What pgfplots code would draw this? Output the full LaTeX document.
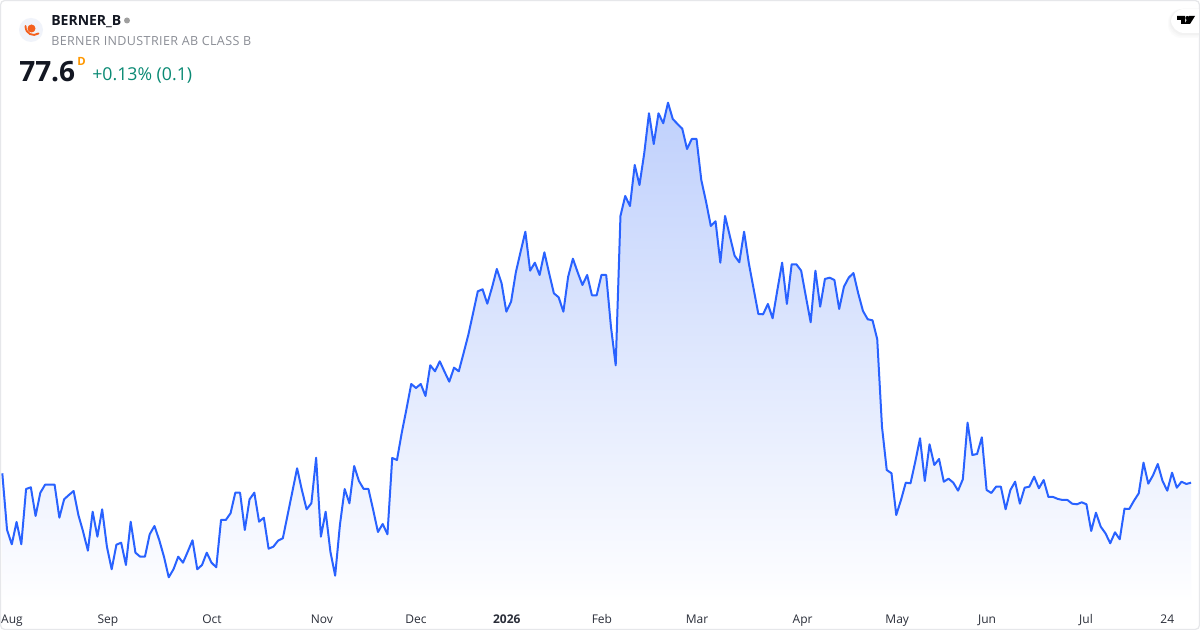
\documentclass[border=0pt]{standalone}
\usepackage{pgfplots}
\usepackage{pgfplotstable}
\usepackage{fontspec}
\pgfplotsset{compat=1.18}
\setmainfont{Open Sans}
\definecolor{line}{HTML}{2962FF}
\definecolor{frame}{HTML}{E6E7EA}
\definecolor{fillTop}{HTML}{BFD0FC}
\definecolor{fillBot}{HTML}{FEFEFF}
\definecolor{tick}{HTML}{2A2E39}
\definecolor{up}{HTML}{0A8A74}
\definecolor{sub}{HTML}{8A8D95}
\definecolor{orng}{HTML}{F4601E}
\definecolor{dcol}{HTML}{FF9800}
\definecolor{ink}{HTML}{131722}
\definecolor{logobg}{HTML}{F0F3FA}
\pgfplotstableread{
i h
0 156.7
1 100
2 85.7
3 108
4 85.7
5 141
6 142.7
7 114
8 137.3
9 145.3
10 145.3
11 145.3
12 112.3
13 130.7
14 135
15 139
16 115
17 98.3
18 79.3
19 118.3
20 93.3
21 120.7
22 83.3
23 60.7
24 85.3
25 87.3
26 65
27 108.3
28 77.3
29 73.3
30 73.3
31 95.7
32 104
33 90
34 73.3
35 52.7
36 60.7
37 73.3
38 67.3
39 78.3
40 89.7
41 60.7
42 65
43 77.3
44 67.3
45 62.7
46 110
47 110
48 116.7
49 137.3
50 137.3
51 100
52 130.7
53 137.3
54 108.3
55 112.3
56 81.3
57 83.3
58 89.3
59 91.7
60 115
61 138.3
62 161.7
63 140
64 120.7
65 126.7
66 172.3
67 93.3
68 118.3
69 78.3
70 54.3
71 105
72 141
73 126.7
74 164
75 149
76 141
77 141
78 120
79 98
80 106
81 95.7
82 172
83 170
84 197
85 221
86 246
87 242
88 246
89 234
90 264.7
91 258.7
92 268.7
93 258.3
94 248.3
95 262.3
96 258.7
97 276.7
98 295
99 316.7
100 338.7
101 340.7
102 326.3
103 342.7
104 361
105 346.7
106 318.3
107 328.3
108 357.7
109 378.3
110 398.3
111 359.3
112 367.3
113 355
114 377.7
115 356.7
116 336.7
117 332.7
118 318.3
119 353.3
120 371.3
121 357.7
122 345
123 355
124 334.7
125 334.7
126 355
127 355
128 303.3
129 264.7
130 414
131 434
132 424
133 465
134 445
135 476.7
136 516.7
137 486
138 516.7
139 506.7
140 527.3
141 511
142 506
143 501.3
144 481
145 491
146 491
147 450
148 428.3
149 404
150 408.7
151 367.3
152 414
153 394
154 374.3
155 367.7
156 398.3
157 366.7
158 341.3
159 316
160 315.7
161 326
162 311.7
163 340
164 367.3
165 326
166 365.7
167 365.7
168 359.3
169 333.3
170 307.7
171 359.3
172 323.3
173 351
174 352.3
175 350
176 321
177 343.3
178 352.3
179 357
180 336.7
181 319
182 310.7
183 309.7
184 290.7
185 203.3
186 160
187 156.7
188 115
189 130
190 147.3
191 146.7
192 168.3
193 191.7
194 149
195 185.7
196 165
197 171
198 148.3
199 151.3
200 147.3
201 139.3
202 150.7
203 207.3
204 175
205 176
206 192.7
207 140
208 137
209 143.3
210 143.3
211 120.7
212 140
213 148.3
214 126.3
215 142.3
216 143.3
217 153.3
218 141.7
219 150
220 133
221 133
222 131
223 130
224 130
225 126.3
226 125.7
227 127.7
228 125.7
229 99
230 117.3
231 103.3
232 96.7
233 86.7
234 97.7
235 90.7
236 121.3
237 121
238 129.3
239 136.7
240 167.3
241 146.3
242 154.7
243 166
244 149
245 139.3
246 157.3
247 142.3
248 148.3
249 146
250 147.3
}\pricedata
\begin{document}
\begin{tikzpicture}
\useasboundingbox (0,0) rectangle (900pt,472.5pt);
\fill[white] (0,0) rectangle (900pt,472.5pt);
\begin{axis}[
  scale only axis, width=900pt, height=472.5pt,
  xmin=-0.484, xmax=251.88, ymin=-30, ymax=600,
  axis line style={draw=none},
  tick style={draw=none},
  major tick length=0pt,
  ytick=\empty,
  xtick={2.04,22.2,44.1,67.2,87,106.1,126.1,146.1,168.3,188.2,207.1,227.9,245},
  xticklabels={Aug,Sep,Oct,Nov,Dec,{\bfseries 2026},Feb,Mar,Apr,May,Jun,Jul,24},
  x tick label style={font=\fontsize{9}{11}\selectfont, text=tick, anchor=base, yshift=-4.5pt},
  xticklabel shift=-9pt,
]
\addplot[draw=none, shade, top color=fillTop, bottom color=fillBot]
  table[x=i, y expr=\thisrow{h}-30] {\pricedata} \closedcycle;
\addplot[line, line width=1.5pt, line join=round]
  table[x=i, y expr=\thisrow{h}-30] {\pricedata};
\end{axis}
\begin{scope}[x=0.75pt, y=-0.75pt, yshift=472.5pt]
  \draw[frame, line width=0.9pt, rounded corners=3pt] (0.6,0.6) rectangle (1199.4,629.4);
  % logo
  \fill[logobg] (31,30) circle (12);
  \fill[orng] (31.5,28.5) circle (4);
  \draw[orng, line width=1.4pt, line cap=round] (25.5,26) .. controls (25.5,34) and (33,37) .. (38.5,33.5);
  % header text
  \node[anchor=base west, inner sep=0pt, text=ink] at (51,26) {\fontsize{10.5}{12}\selectfont\bfseries BERNER\_B};
  \fill[gray!75] (127,20.5) circle (3);
  \node[anchor=base west, inner sep=0pt, text=sub] at (51,46) {\addfontfeature{LetterSpace=3}\fontsize{9.4}{12}\selectfont BERNER INDUSTRIER AB CLASS B};
  \node[anchor=base west, inner sep=0pt, text=ink] at (19,82) {\fontsize{21}{24}\selectfont\bfseries 77.6};
  \node[anchor=base west, inner sep=0pt, text=dcol] at (77,65.5) {\fontsize{8.5}{10}\selectfont\bfseries D};
  \node[anchor=base west, inner sep=0pt, text=up] at (92,81) {\fontsize{13.3}{15}\selectfont +0.13\% (0.1)};
  % TradingView tab
  \fill[black!1.5, rounded corners=10pt] (1168,9) rectangle (1215,38);
  \fill[black!3, rounded corners=10pt] (1169,9) rectangle (1215,36.5);
  \fill[black!5, rounded corners=10pt] (1170,9) rectangle (1215,35);
  \fill[white, rounded corners=10pt] (1171,9) rectangle (1215,33);
  \fill[frame] (1199,4) rectangle (1200,42);
  \fill[black] (1177,16) -- (1185,16) -- (1185,24) -- (1181,24) -- (1181,20) -- (1177,20) -- cycle;
  \fill[black] (1187.3,18) circle (2);
  \fill[black] (1189,16) -- (1195,16) -- (1190,24) -- (1184.5,24) -- cycle;
\end{scope}
\end{tikzpicture}
\end{document}
